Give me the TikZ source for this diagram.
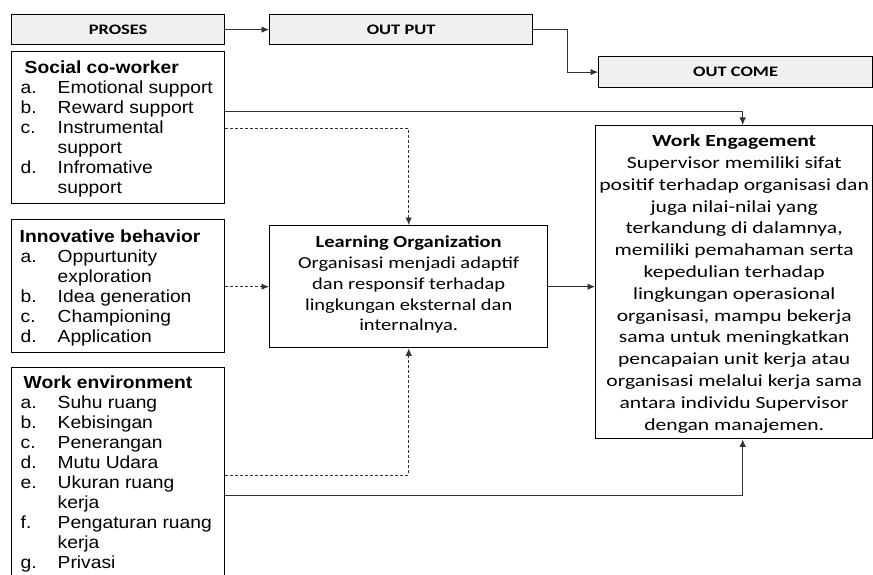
\documentclass[tikz,border=0pt]{standalone}
\usepackage{fontspec}
\setmainfont{Liberation Sans}
\newfontfamily\arialf[FakeStretch=1.1]{Liberation Sans}
\newfontfamily\calf[FakeStretch=1.22]{Carlito}
\newfontfamily\calwe[FakeStretch=1.27]{Carlito}
\newfontfamily\calhd[FakeStretch=1.27]{Carlito}
\usetikzlibrary{arrows.meta}
\definecolor{hdrfill}{RGB}{240,240,240}
\definecolor{linegray}{RGB}{50,50,50}
\newcommand{\lsitem}[2]{\hspace*{9pt}\makebox[37pt][l]{#1}#2}
\newcommand{\lscont}[1]{\hspace*{46pt}#1}
\begin{document}
\begin{tikzpicture}[x=1pt,y=-1pt,
 hdr/.style={draw=black, line width=1.2pt, fill=hdrfill, inner sep=0, anchor=north west,
   font=\calhd\fontsize{14.5}{16}\selectfont\bfseries},
 lbox/.style={draw=black, line width=1.4pt, inner sep=0, anchor=north west,
   font=\arialf\fontsize{17.5}{20}\selectfont},
 cbox/.style={draw=black, line width=1.4pt, inner sep=0, anchor=north west,
   font=\calf\fontsize{16.8}{20.8}\selectfont},
 conn/.style={draw=linegray, line width=0.9pt, -{Latex[length=7.5pt,width=6.5pt]}},
 dconn/.style={conn, dash pattern=on 3pt off 2pt},
]
\useasboundingbox (0,0) rectangle (873,575);
\clip (0,0) rectangle (873,575);

% header boxes
\node[hdr, minimum width=213pt, minimum height=30pt] (pro) at (11,14) {PROSES};
\node[hdr, minimum width=263pt, minimum height=30pt] (out) at (269,14) {OUT PUT};
\node[hdr, minimum width=274pt, minimum height=31pt] (oc) at (598,56) {OUT COME};

% list boxes
\node[lbox] (soc) at (11,51) {\parbox[c][152pt][t]{213pt}{%
\rule{0pt}{22pt}\hspace*{13pt}\textbf{Social co-worker}\\
\lsitem{a.}{Emotional support}\\
\lsitem{b.}{Reward support}\\
\lsitem{c.}{Instrumental}\\
\lscont{support}\\
\lsitem{d.}{Infromative}\\
\lscont{support}}};

\node[lbox] (inn) at (11,219) {\parbox[c][133pt][t]{213pt}{%
\rule{0pt}{23pt}\hspace*{8pt}\textbf{Innovative behavior}\\
\lsitem{a.}{Oppurtunity}\\
\lscont{exploration}\\
\lsitem{b.}{Idea generation}\\
\lsitem{c.}{Championing}\\
\lsitem{d.}{Application}}};

\node[lbox] (wen) at (11,367) {\parbox[c][240pt][t]{213pt}{%
\rule{0pt}{21pt}\hspace*{12pt}\textbf{Work environment}\\
\lsitem{a.}{Suhu ruang}\\
\lsitem{b.}{Kebisingan}\\
\lsitem{c.}{Penerangan}\\
\lsitem{d.}{Mutu Udara}\\
\lsitem{e.}{Ukuran ruang}\\
\lscont{kerja}\\
\lsitem{f.}{Pengaturan ruang}\\
\lscont{kerja}\\
\lsitem{g.}{Privasi}}};

% Learning Organization
\node[cbox] (lo) at (269,225) {\parbox[c][122pt][t]{278pt}{\centering
\rule{0pt}{22pt}\textbf{Learning Organization}\\
Organisasi menjadi adaptif\\
dan responsif terhadap\\
lingkungan eksternal dan\\
internalnya.}};

% Work Engagement
\node[cbox, font=\calwe\fontsize{17}{21.8}\selectfont] (we) at (595,125) {\parbox[c][313pt][t]{277pt}{\centering
\rule{0pt}{21pt}\textbf{Work Engagement}\\
Supervisor memiliki sifat\\
positif terhadap organisasi dan\\
juga nilai-nilai yang\\
terkandung di dalamnya,\\
memiliki pemahaman serta\\
kepedulian terhadap\\
lingkungan operasional\\
organisasi, mampu bekerja\\
sama untuk meningkatkan\\
pencapaian unit kerja atau\\
organisasi melalui kerja sama\\
antara individu Supervisor\\
dengan manajemen.}};

% connectors
\draw[conn] (pro.east) -- (out.west);
\draw[conn] (out.east) -- ++(34,0) |- (oc.west);
\draw[conn] ([yshift=-60pt]soc.north east) -| ([xshift=8.5pt]we.north);
\draw[dconn] ([yshift=-77pt]soc.north east) -| (lo.north);
\draw[dconn] (inn.east |- lo.west) -- (lo.west);
\draw[conn] (lo.east) -- (lo.east -| we.west);
\draw[dconn] ([yshift=-108pt]wen.north east) -| (lo.south);
\draw[conn] ([yshift=-128pt]wen.north east) -| ([xshift=8.5pt]we.south);
\end{tikzpicture}
\end{document}
